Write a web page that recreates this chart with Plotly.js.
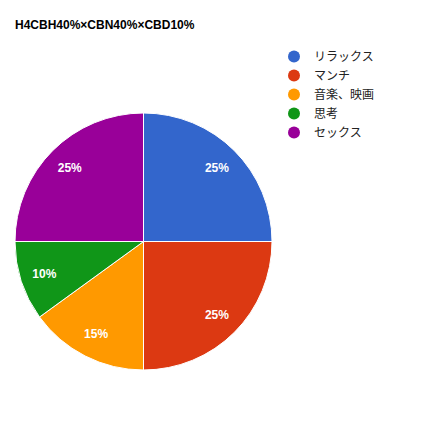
<!DOCTYPE html>
<html>
<head>
<meta charset="utf-8">
<script src="https://cdn.plot.ly/plotly-3.0.1.min.js"></script>
<style>
  html, body { margin: 0; padding: 0; background: #fff; }
  #pieChart { width: 433px; height: 433px; }
</style>
</head>
<body>
<div id="pieChart"></div>
<script>
// chart values
let labels = ["リラックス", "マンチ", "音楽、映画", "思考", "セックス"]
let values = [25, 25, 15, 10, 25]
let colors = ["#3366cc", "#dc3912", "#ff9900", "#109618", "#990099"]

function plotPie(){
  let W = 433, H = 433
  let dom = {x: [15 / W, 272 / W], y: [1 - 370 / H, 1 - 113 / H]}
  let pie = {
    type: 'pie',
    labels: labels,
    values: values,
    sort: false,
    direction: 'clockwise',
    rotation: 0,
    marker: {colors: colors, line: {color: '#ffffff', width: 1}},
    textinfo: 'none',
    hoverinfo: 'label+percent',
    showlegend: false,
    domain: dom
  }
  // transparent ring on top, only to put the % labels further out like google charts
  let ring = {
    type: 'pie',
    labels: labels,
    values: values,
    sort: false,
    direction: 'clockwise',
    rotation: 0,
    hole: 0.62,
    marker: {colors: labels.map(() => 'rgba(0,0,0,0)'), line: {width: 0}},
    texttemplate: '%{percent:.0%}',
    textposition: 'inside',
    insidetextorientation: 'horizontal',
    textfont: {family: 'Liberation Sans, Arial, sans-serif', size: 12, color: '#ffffff', weight: 'bold'},
    hoverinfo: 'skip',
    showlegend: false,
    domain: dom
  }
  // legend entries with round markers, same labels and colours
  let data = [pie, ring]
  for(let i = 0; i < labels.length; i++){
    data.push({
      type: 'scatter', mode: 'markers',
      x: [null], y: [null],
      name: labels[i],
      marker: {symbol: 'circle', size: 12, color: colors[i]},
      showlegend: true, hoverinfo: 'skip'
    })
  }
  let layout = {
    width: W, height: H,
    margin: {l: 0, r: 0, t: 0, b: 0},
    paper_bgcolor: '#ffffff',
    plot_bgcolor: '#ffffff',
    title: {
      text: 'H4CBH40%×CBN40%×CBD10%',
      x: 15 / W, xanchor: 'left', xref: 'paper',
      y: 1 - 25 / H, yanchor: 'middle', yref: 'container',
      font: {family: 'Liberation Sans, Arial, sans-serif', size: 12, color: '#000000', weight: 'bold'}
    },
    xaxis: {visible: false, domain: [0.99, 1]},
    yaxis: {visible: false, domain: [0.99, 1]},
    legend: {
      x: 274 / W, y: 1 - 42 / H, xanchor: 'left', yanchor: 'top',
      font: {family: 'Noto Sans CJK JP, sans-serif', size: 12, color: '#222222'},
      itemwidth: 30,
      tracegroupgap: 0,
      bgcolor: 'rgba(0,0,0,0)'
    }
  }
  Plotly.newPlot('pieChart', data, layout, {displayModeBar: false, staticPlot: true})
}

plotPie()
</script>
</body>
</html>
